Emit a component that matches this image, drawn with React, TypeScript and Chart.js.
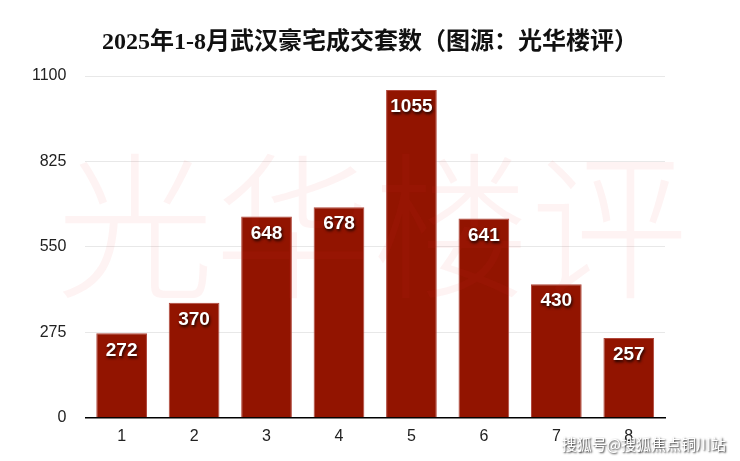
import React, { useEffect, useRef } from "react";
import { Chart, registerables } from "chart.js";

Chart.register(...registerables);

const months = ["1", "2", "3", "4", "5", "6", "7", "8"];
const sales = [272, 370, 648, 678, 1055, 641, 430, 257];
const yTicks = [0, 275, 550, 825, 1100];
const titleText = "2025年1-8月武汉豪宅成交套数（图源：光华楼评）";
const watermarkText = "光华楼评";
const sourceText = "搜狐号@搜狐焦点铜川站";

const overlayPlugin = {
  id: "overlay",
  afterDatasetsDraw(chart: any) {
    const ctx = chart.ctx;
    const area = chart.chartArea;
    ctx.save();
    ctx.font = "300 158px 'Noto Sans CJK SC', serif";
    ctx.fillStyle = "rgba(240, 50, 50, 0.06)";
    ctx.textAlign = "center";
    ctx.textBaseline = "middle";
    const cx = (area.left + area.right) / 2 - 3;
    ctx.fillText(watermarkText, cx, 226);
    ctx.restore();

    const meta = chart.getDatasetMeta(0);
    ctx.save();
    ctx.font = "bold 19px 'Liberation Sans', Arial, sans-serif";
    ctx.textAlign = "center";
    ctx.textBaseline = "middle";
    ctx.fillStyle = "#ffffff";
    ctx.shadowColor = "rgba(0,0,0,0.85)";
    ctx.shadowBlur = 3;
    ctx.shadowOffsetX = 1;
    ctx.shadowOffsetY = 2;
    meta.data.forEach((bar: any, i: number) => {
      ctx.fillText(String(sales[i]), bar.x, bar.y + 17);
    });
    ctx.restore();
  },
  afterDraw(chart: any) {
    const ctx = chart.ctx;
    ctx.save();
    ctx.font = "bold 24px 'Liberation Serif', 'Noto Sans CJK SC', serif";
    ctx.textAlign = "center";
    ctx.textBaseline = "middle";
    ctx.fillStyle = "#111";
    ctx.fillText(titleText, 370, 43);
    ctx.restore();

    ctx.save();
    ctx.font = "15px 'Noto Sans CJK SC', sans-serif";
    ctx.textAlign = "right";
    ctx.textBaseline = "middle";
    ctx.fillStyle = "#ffffff";
    ctx.shadowColor = "rgba(0,0,0,0.9)";
    ctx.shadowBlur = 2;
    ctx.shadowOffsetX = 1;
    ctx.shadowOffsetY = 1;
    ctx.fillText(sourceText, 726, 444);
    ctx.restore();
  },
};

export default function App() {
  const ref = useRef<HTMLCanvasElement | null>(null);
  useEffect(() => {
    if (!ref.current) return;
    const chart = new Chart(ref.current, {
      type: "bar",
      data: {
        labels: months,
        datasets: [
          {
            data: sales,
            backgroundColor: "#921400",
            borderColor: "#b0463a",
            borderWidth: 1,
            categoryPercentage: 0.7,
            barPercentage: 1,
          },
        ],
      },
      options: {
        responsive: false,
        animation: false,
        layout: { padding: { left: 13, right: 75, top: 76, bottom: 14 } },
        plugins: {
          legend: { display: false },
          tooltip: { enabled: false },
          title: { display: false },
        },
        scales: {
          x: {
            grid: { display: false },
            border: { display: true, color: "#000", width: 1.5 },
            ticks: { color: "#222", font: { family: "'Liberation Sans', Arial, sans-serif", size: 16 }, padding: 1 },
          },
          y: {
            min: 0,
            max: 1100,
            afterBuildTicks(axis: any) {
              axis.ticks = yTicks.map((v) => ({ value: v }));
            },
            grid: { color: "#e8e8e8", drawTicks: false },
            border: { display: false },
            ticks: {
              color: "#222",
              font: { family: "'Liberation Sans', Arial, sans-serif", size: 16 },
              padding: 19,
              callback: (v: any) => String(v),
            },
          },
        },
      },
      plugins: [overlayPlugin],
    });
    return () => chart.destroy();
  }, []);
  return (
    <div style={{ position: "fixed", left: 0, top: 0, width: 740, height: 461, background: "#fff" }}>
      <canvas ref={ref} width={740} height={461} />
    </div>
  );
}
